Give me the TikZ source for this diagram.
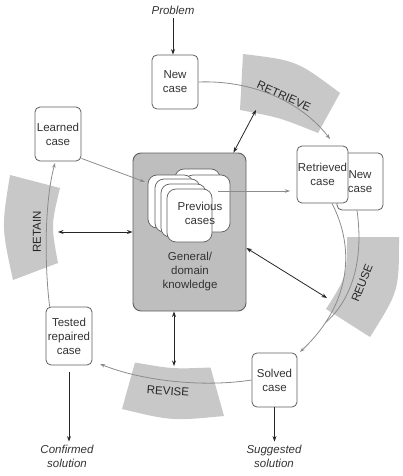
\documentclass[tikz,border=0pt]{standalone}
\usepackage{fontspec}
\setmainfont{Liberation Sans}
\usetikzlibrary{arrows.meta}
\definecolor{bandgray}{RGB}{200,200,200}
\definecolor{kbgray}{RGB}{190,190,190}
\definecolor{edgegray}{RGB}{95,95,95}
\definecolor{flowgray}{RGB}{140,140,140}
\begin{document}
\begin{tikzpicture}[x=1pt,y=-1pt,
  txt/.style={font=\fontsize{11.5}{14}\selectfont, text=black!80, align=center},
  box/.style={txt, draw=edgegray, line width=0.8pt, fill=white, rounded corners=5pt, inner sep=0pt},
  card/.style={draw=edgegray, line width=0.7pt, fill=white, rounded corners=9pt, inner sep=0pt, minimum width=45pt, minimum height=53pt},
  band/.style={fill=bandgray},
  bandtext/.style={font=\fontsize{11.5}{14}\selectfont, text=black!85},
  flow/.style={draw=flowgray, line width=0.8pt, -{Stealth[length=5pt,width=3.5pt]}},
  flowline/.style={draw=flowgray, line width=0.8pt},
  blk/.style={draw=black!85, line width=0.8pt, -{Stealth[length=5.5pt,width=4pt]}},
  dbl/.style={draw=black!85, line width=0.8pt, {Stealth[length=5.5pt,width=4pt]}-{Stealth[length=5.5pt,width=4pt]}},
  lbl/.style={font=\itshape\fontsize{11.5}{14}\selectfont, text=black!80, align=center, inner sep=1pt},
]
\useasboundingbox (0,0) rectangle (402,476);

% bands
\fill[band] (243,54) .. controls (296.7,60.5) .. (340,93) -- (318,133) .. controls (280.1,117.7) .. (240,110) -- cycle;
\fill[band] (347,237) -- (399,237) .. controls (399,291) .. (370,337) -- (326,309) .. controls (347,276) .. (347,237) -- cycle;
\fill[band] (135,362.5) .. controls (172.5,369) .. (210.5,367.5) -- (224,416) .. controls (172,421) .. (122,409) -- cycle;
\fill[band] (10,175) -- (60,188) .. controls (51,225.5) .. (58,263) -- (13,280) .. controls (1.5,227.5) .. (10,175) -- cycle;

\node[bandtext, rotate=-24] (retrieveT) at (284,96) {RETRIEVE};
\node[bandtext, rotate=68] (reuseT) at (362,283) {REUSE};
\node[bandtext, rotate=-4] (reviseT) at (168,391) {REVISE};
\node[bandtext, rotate=90] (retainT) at (37,232) {RETAIN};

% named points
\coordinate (rtip) at (330,139);
\coordinate (stip) at (300,352);
\coordinate (bmerge) at (325,323);
\coordinate (ttip) at (100,364);
\coordinate (ltip) at (55,163);
\coordinate (ptip) at (145,182);
\coordinate (pstart) at (218,191);
\coordinate (rtip2) at (290,191);
\coordinate (retrieveIn) at (256,110);
\coordinate (retainIn) at (58,232);
\coordinate (reuseIn) at (327,298);
\coordinate (reviseIn) at (174,366);

% central knowledge box
\node[draw=edgegray, fill=kbgray, rounded corners=8pt, line width=0.9pt, minimum width=113pt, minimum height=158pt, inner sep=0pt] (kb) at (189.5,232) {};
\node[card] (back1) at (197.5,195.5) {};
\node[card, minimum width=46pt, minimum height=57pt] (back2) at (207,203.5) {};
\node[card] (card1) at (170.5,201.5) {};
\node[card] (card2) at (177.5,205.5) {};
\node[card] (card3) at (183.5,210.5) {};
\node[card] (card4) at (189.5,215.5) {};
\node[txt] (prevT) at (200,213) {Previous\\cases};
\node[txt] (kbT) at (190,272) {General/\\domain\\knowledge};

% boxes
\node[txt] (problem) at (173,10) {\itshape Problem};
\node[box, minimum width=46pt, minimum height=54pt] (newcase) at (175,82) {New\\case};
\node[box, minimum width=46pt, minimum height=57pt] (newcase2) at (360,181.5) {New\\case};
\node[box, minimum width=51pt, minimum height=57pt] (retrieved) at (322.5,174.5) {Retrieved\\case};
\node[box, minimum width=45pt, minimum height=54pt] (solved) at (274.5,380) {Solved\\case};
\node[box, minimum width=46pt, minimum height=58pt] (tested) at (69,336) {Tested\\repaired\\case};
\node[box, minimum width=46pt, minimum height=54pt] (learned) at (58,134) {Learned\\case};
\node[lbl] (confirmed) at (67,456) {Confirmed\\solution};
\node[lbl] (suggested) at (274,456) {Suggested\\solution};

% cycle flows
\draw[flow] (newcase.east) .. controls (250,80) and (300,100) .. (rtip);
\draw[flow] ([xshift=9.5pt]retrieved.south) .. controls (356,250) and (350,305) .. (stip);
\draw[flowline] ([xshift=-3pt]newcase2.south) .. controls (364,260) and (352,300) .. (bmerge);
\draw[flow] (solved.west) .. controls (200,388) and (140,380) .. (ttip);
\draw[flow] ([xshift=4pt]tested.north west) .. controls (44,260) and (45,200) .. (ltip);
\draw[flow] ([yshift=3pt]learned.south east) -- (ptip);
\draw[flow] (pstart) -- (rtip2);

% knowledge links
\draw[dbl] ([xshift=-13pt]kb.north east) -- (retrieveIn);
\draw[dbl] (retainIn) -- (kb.west);
\draw[dbl] ([yshift=-16pt]kb.east) -- (reuseIn);
\draw[dbl] ([xshift=-15.5pt]kb.south) -- (reviseIn);

% inputs / outputs
\draw[blk] (problem.south) -- (problem.south |- newcase.north);
\draw[blk, shorten <=7pt, shorten >=2pt] (tested.south) -- (tested.south |- confirmed.north);
\draw[blk, shorten >=2pt] (solved.south) -- (solved.south |- suggested.north);
\end{tikzpicture}
\end{document}
